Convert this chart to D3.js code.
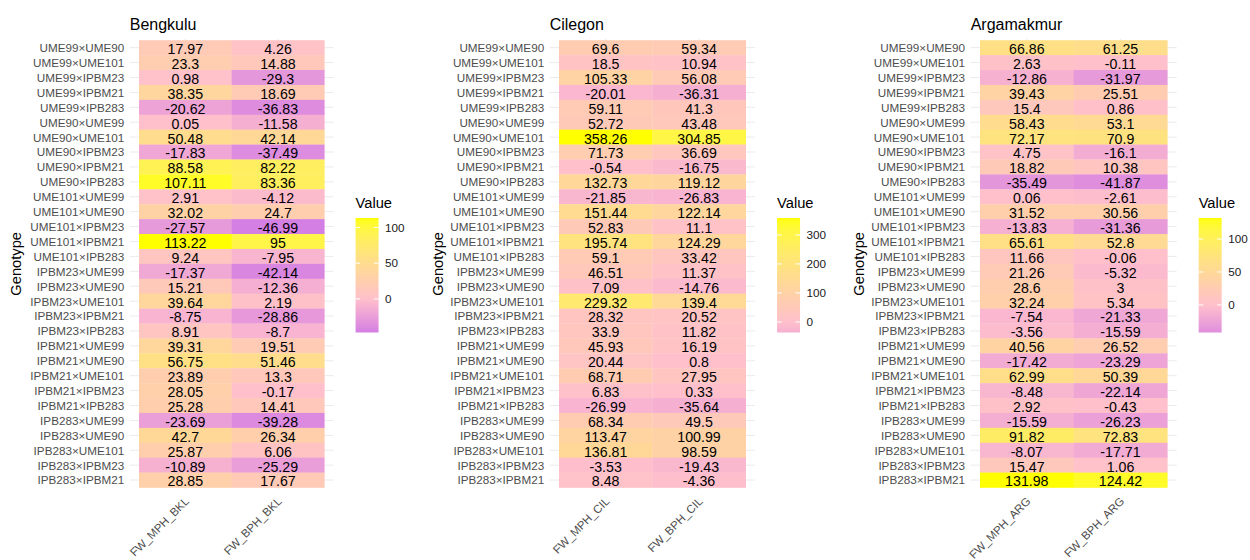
<!DOCTYPE html>
<html>
<head>
<meta charset="utf-8">
<script src="https://cdn.jsdelivr.net/npm/d3@7"></script>
<style>
  html, body { margin: 0; padding: 0; background: #fff; }
  svg { display: block; font-family: "Liberation Sans", Arial, sans-serif; }
</style>
</head>
<body>
<svg id="chart" width="1250" height="560"></svg>
<script>
// ---------------- DATA ----------------
const genotypes = [
  "UME99×UME90","UME99×UME101","UME99×IPBM23","UME99×IPBM21","UME99×IPB283",
  "UME90×UME99","UME90×UME101","UME90×IPBM23","UME90×IPBM21","UME90×IPB283",
  "UME101×UME99","UME101×UME90","UME101×IPBM23","UME101×IPBM21","UME101×IPB283",
  "IPBM23×UME99","IPBM23×UME90","IPBM23×UME101","IPBM23×IPBM21","IPBM23×IPB283",
  "IPBM21×UME99","IPBM21×UME90","IPBM21×UME101","IPBM21×IPBM23","IPBM21×IPB283",
  "IPB283×UME99","IPB283×UME90","IPB283×UME101","IPB283×IPBM23","IPB283×IPBM21"
];

const locations = ["Bengkulu", "Cilegon", "Argamakmur"];

const traitsBKL = ["FW_MPH_BKL", "FW_BPH_BKL"];
const traitsCIL = ["FW_MPH_CIL", "FW_BPH_CIL"];
const traitsARG = ["FW_MPH_ARG", "FW_BPH_ARG"];

const mphBKL = [17.97, 23.3, 0.98, 38.35, -20.62, 0.05, 50.48, -17.83, 88.58, 107.11,
  2.91, 32.02, -27.57, 113.22, 9.24, -17.37, 15.21, 39.64, -8.75, 8.91,
  39.31, 56.75, 23.89, 28.05, 25.28, -23.69, 42.7, 25.87, -10.89, 28.85];
const bphBKL = [4.26, 14.88, -29.3, 18.69, -36.83, -11.58, 42.14, -37.49, 82.22, 83.36,
  -4.12, 24.7, -46.99, 95, -7.95, -42.14, -12.36, 2.19, -28.86, -8.7,
  19.51, 51.46, 13.3, -0.17, 14.41, -39.28, 26.34, 6.06, -25.29, 17.67];

const mphCIL = [69.6, 18.5, 105.33, -20.01, 59.11, 52.72, 358.26, 71.73, -0.54, 132.73,
  -21.85, 151.44, 52.83, 195.74, 59.1, 46.51, 7.09, 229.32, 28.32, 33.9,
  45.93, 20.44, 68.71, 6.83, -26.99, 68.34, 113.47, 136.81, -3.53, 8.48];
const bphCIL = [59.34, 10.94, 56.08, -36.31, 41.3, 43.48, 304.85, 36.69, -16.75, 119.12,
  -26.83, 122.14, 11.1, 124.29, 33.42, 11.37, -14.76, 139.4, 20.52, 11.82,
  16.19, 0.8, 27.95, 0.33, -35.64, 49.5, 100.99, 98.59, -19.43, -4.36];

const mphARG = [66.86, 2.63, -12.86, 39.43, 15.4, 58.43, 72.17, 4.75, 18.82, -35.49,
  0.06, 31.52, -13.83, 65.61, 11.66, 21.26, 28.6, 32.24, -7.54, -3.56,
  40.56, -17.42, 62.99, -8.48, 2.92, -15.59, 91.82, -8.07, 15.47, 131.98];
const bphARG = [61.25, -0.11, -31.97, 25.51, 0.86, 53.1, 70.9, -16.1, 10.38, -41.87,
  -2.61, 30.56, -31.36, 52.8, -0.06, -5.32, 3, 5.34, -21.33, -15.59,
  26.52, -23.29, 50.39, -22.14, -0.43, -26.23, 72.83, -17.71, 1.06, 124.42];

const legendTicksBKL = [0, 50, 100];
const legendTicksCIL = [0, 100, 200, 300];
const legendTicksARG = [0, 50, 100];

const legendTitle = "Value";
const yTitle = "Genotype";

// ---------------- STYLE / LAYOUT ----------------
const lowColor = "#8000FF", midColor = "#FFC0CB", highColor = "#FFFF00";

const panels = [
  { title: locations[0], traits: traitsBKL, series: [mphBKL, bphBKL], ticks: legendTicksBKL,
    x0: 139, x1: 324.3, yTitleX: 15.5 },
  { title: locations[1], traits: traitsCIL, series: [mphCIL, bphCIL], ticks: legendTicksCIL,
    x0: 559, x1: 745.7, yTitleX: 437.5 },
  { title: locations[2], traits: traitsARG, series: [mphARG, bphARG], ticks: legendTicksARG,
    x0: 980, x1: 1167.3, yTitleX: 859 }
];

const tileTop = 40.2, tileBottom = 487.5;
const svg = d3.select("#chart");

panels.forEach(p => {
  const g = svg.append("g");
  const x = d3.scaleBand().domain(p.traits).range([p.x0, p.x1]);
  const y = d3.scaleBand().domain(genotypes).range([tileTop, tileBottom]);
  const bw = x.bandwidth(), bh = y.bandwidth();
  const panelL = p.x0 - 0.1 * bw, panelR = p.x1 + 0.1 * bw;
  const panelT = tileTop - 0.1 * bh, panelB = tileBottom + 0.1 * bh;

  const all = p.series[0].concat(p.series[1]);
  const vmin = d3.min(all), vmax = d3.max(all);
  const m = Math.max(Math.abs(vmin), Math.abs(vmax));
  const color = d3.scaleLinear().domain([-m, 0, m])
    .range([lowColor, midColor, highColor]).interpolate(d3.interpolateLab);

  // grid lines
  g.append("g").selectAll("line").data(genotypes).join("line")
    .attr("x1", panelL).attr("x2", panelR)
    .attr("y1", d => y(d) + bh / 2).attr("y2", d => y(d) + bh / 2)
    .attr("stroke", "#ebebeb").attr("stroke-width", 1);
  g.append("g").selectAll("line").data(p.traits).join("line")
    .attr("y1", panelT).attr("y2", panelB)
    .attr("x1", d => x(d) + bw / 2).attr("x2", d => x(d) + bw / 2)
    .attr("stroke", "#ebebeb").attr("stroke-width", 1);

  // cells
  const cells = [];
  p.traits.forEach((t, j) => genotypes.forEach((gn, i) => cells.push({ t, gn, v: p.series[j][i] })));
  g.append("g").selectAll("rect").data(cells).join("rect")
    .attr("x", d => x(d.t)).attr("y", d => y(d.gn))
    .attr("width", bw + 0.3).attr("height", bh + 0.3)
    .attr("fill", d => color(d.v));
  g.append("g").selectAll("text").data(cells).join("text")
    .attr("x", d => x(d.t) + bw / 2).attr("y", d => y(d.gn) + bh / 2)
    .attr("dy", "0.45em").attr("text-anchor", "middle")
    .attr("font-size", "14.2px").attr("fill", "#000")
    .text(d => d.v);

  // y axis labels
  g.append("g").selectAll("text").data(genotypes).join("text")
    .attr("x", panelL - 5.5).attr("y", d => y(d) + bh / 2)
    .attr("dy", "0.38em").attr("text-anchor", "end")
    .attr("font-size", "11.7px").attr("fill", "#4d4d4d")
    .text(d => d);

  // x axis labels
  g.append("g").selectAll("text").data(p.traits).join("text")
    .attr("transform", d => `translate(${x(d) + bw / 2 + 4.5},${panelB + 13}) rotate(-45)`)
    .attr("text-anchor", "end")
    .attr("font-size", "11.5px").attr("fill", "#4d4d4d")
    .text(d => d);

  // title
  g.append("text").attr("x", panelL).attr("y", 29.5)
    .attr("font-size", "16px").attr("fill", "#000").text(p.title);

  // y title
  g.append("text")
    .attr("transform", `translate(${p.yTitleX + 5},${(panelT + panelB) / 2}) rotate(-90)`)
    .attr("text-anchor", "middle").attr("font-size", "14.7px").attr("fill", "#000")
    .text(yTitle);

  // legend
  const barX = panelR + 22, barW = 23, barTop = 218, barBot = 332.5;
  const ly = d3.scaleLinear().domain([vmin, vmax]).range([barBot, barTop]);
  const gid = "grad" + p.traits[0];
  const grad = svg.append("defs").append("linearGradient").attr("id", gid)
    .attr("x1", 0).attr("y1", 1).attr("x2", 0).attr("y2", 0);
  d3.range(0, 41).forEach(k => {
    const v = vmin + (vmax - vmin) * k / 40;
    grad.append("stop").attr("offset", k / 40).attr("stop-color", color(v));
  });
  g.append("text").attr("x", barX).attr("y", 208)
    .attr("font-size", "14.7px").attr("fill", "#000").text(legendTitle);
  g.append("rect").attr("x", barX).attr("y", barTop)
    .attr("width", barW).attr("height", barBot - barTop)
    .attr("fill", `url(#${gid})`);
  const tk = g.append("g").selectAll("g").data(p.ticks).join("g");
  tk.append("line").attr("x1", barX).attr("x2", barX + barW / 5)
    .attr("y1", d => ly(d)).attr("y2", d => ly(d)).attr("stroke", "#fff").attr("stroke-width", 1);
  tk.append("line").attr("x1", barX + barW - barW / 5).attr("x2", barX + barW)
    .attr("y1", d => ly(d)).attr("y2", d => ly(d)).attr("stroke", "#fff").attr("stroke-width", 1);
  tk.append("text").attr("x", barX + barW + 6.5).attr("y", d => ly(d))
    .attr("dy", "0.36em").attr("font-size", "11.7px").attr("fill", "#1a1a1a")
    .text(d => d);
});
</script>
</body>
</html>
